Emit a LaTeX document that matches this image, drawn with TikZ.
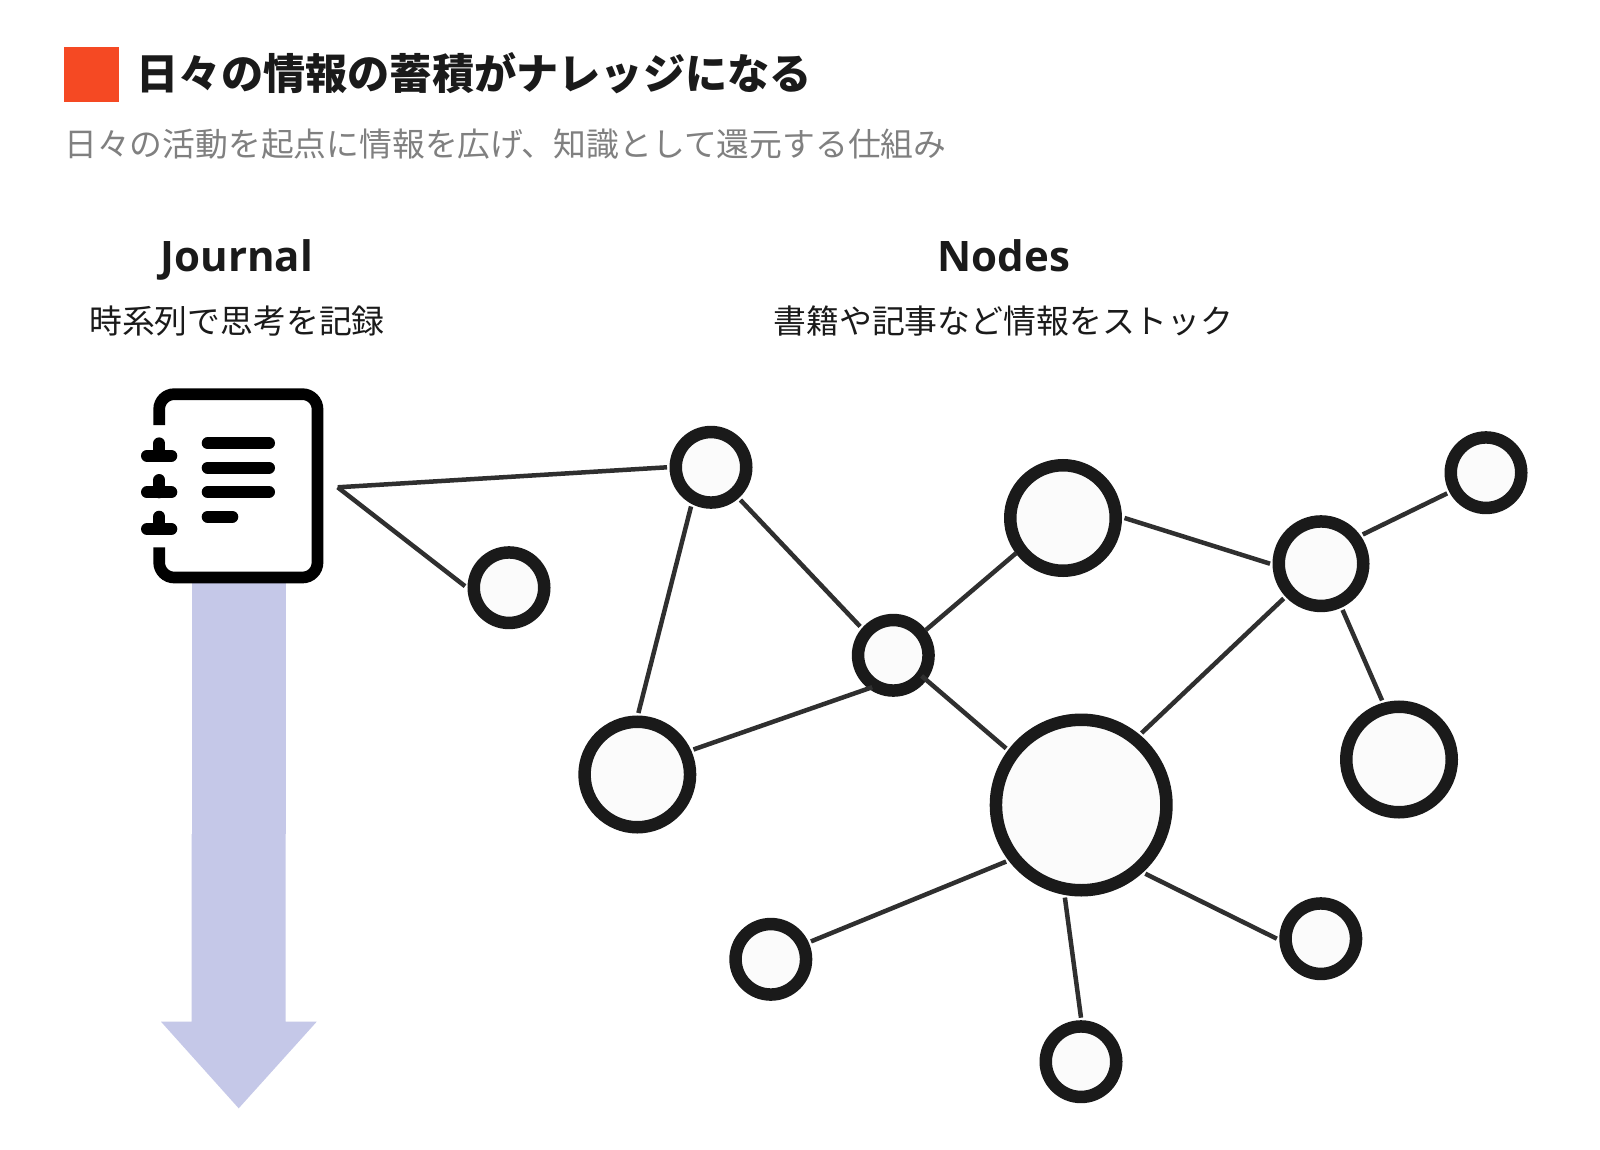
\documentclass[tikz,border=0pt]{standalone}
\usepackage{fontspec}
\newfontfamily\jpfont{Noto Sans CJK JP}
\newfontfamily\latinfont{Open Sans}
\definecolor{inkdark}{HTML}{1A1A1A}
\definecolor{linkgray}{HTML}{2F2F2F}
\definecolor{subgray}{HTML}{808080}
\definecolor{squarered}{HTML}{F54923}
\definecolor{arrowblue}{HTML}{C5C8E8}
\definecolor{nodefill}{HTML}{FBFBFB}
\tikzset{
  x=1pt, y=-1pt,
  graphnode/.style = {draw = inkdark, fill = nodefill, shape = circle, line width = 12.5pt, inner sep = 0pt, outer sep = 8.75pt},
  smallnode/.style = {graphnode, minimum size = 70.5pt},
  hubnode/.style = {graphnode, minimum size = 84.5pt},
  midnode/.style = {graphnode, minimum size = 105.5pt},
  bignode/.style = {graphnode, minimum size = 170.5pt},
  link/.style = {draw = linkgray, line width = 4.5pt},
  iconline/.style = {draw = black, line width = 12pt, line cap = round},
  headtext/.style = {text = inkdark, inner sep = 0pt, font = \latinfont\bfseries\fontsize{42}{50}\selectfont},
  subtext/.style = {text = inkdark, inner sep = 0pt, font = \jpfont\fontsize{32.85}{40}\selectfont}
}
\begin{document}
\begin{tikzpicture}
\useasboundingbox[fill = white] (0,0) rectangle (1600,1150);
\fill[squarered] (63.8,46.7) rectangle (119,101.7);
\node[anchor = base west, text = inkdark, inner sep = 0pt, font = \jpfont\bfseries\fontsize{42.2}{50}\selectfont] (title) at (136.5,90) {日々の情報の蓄積がナレッジになる};
\node[anchor = base west, text = subgray, inner sep = 0pt, font = \jpfont\fontsize{32.8}{40}\selectfont] (subtitle) at (64,157) {日々の活動を起点に情報を広げ、知識として還元する仕組み};
\node[headtext, anchor = base] (journal) at (237,272) {Journal};
\node[headtext, anchor = base] (nodes) at (1004,272) {Nodes};
\node[subtext, anchor = base] (journalsub) at (237,333) {時系列で思考を記録};
\node[subtext, anchor = base] (nodessub) at (1003.5,333) {書籍や記事など情報をストック};
\fill[arrowblue] (191.7,578) rectangle (285.7,834);
\fill[arrowblue] (191.7,834) -- (285.7,834) -- (285.7,1021.7) -- (316.7,1021.7) -- (238.7,1108.3) -- (161,1021.7) -- (191.7,1021.7) -- cycle;
\draw[draw = black, line width = 11.7pt, rounded corners = 15pt] (159.2,425) -- (159.2,394.2) -- (317.5,394.2) -- (317.5,577.5) -- (159.2,577.5) -- (159.2,547.3);
\foreach \ypos in {443.3,467.7,492} {
  \draw[iconline] (207.7,\ypos) -- (269,\ypos);
}
\draw[iconline] (207.7,516.7) -- (232.3,516.7);
\foreach \ypos in {455.7,492.3,529} {
  \draw[iconline] (147,\ypos) -- (171.3,\ypos);
  \draw[iconline] (159.3,\ypos) -- (159.3,\ypos-12.3);
}
\coordinate (jtip) at (337.7,487.3);
\node[smallnode] (n1) at (711,467.3) {};
\node[smallnode] (n2) at (509,587.7) {};
\node[midnode] (n3) at (637.3,774.5) {};
\node[smallnode] (n4) at (893.3,655.3) {};
\node[midnode] (n5) at (1063,518) {};
\node[hubnode] (n6) at (1321,563.7) {};
\node[smallnode] (n7) at (1486,472.7) {};
\node[midnode] (n8) at (1399,759.5) {};
\node[bignode] (n9) at (1081.2,805) {};
\node[smallnode] (n10) at (770.8,959.3) {};
\node[smallnode] (n11) at (1081,1061.7) {};
\node[smallnode] (n12) at (1320.8,938.7) {};
\draw[link] (jtip) -- (n1.180);
\draw[link] (jtip) -- (n2.178);
\draw[link] (n1.243) -- (n3.89);
\draw[link] (n1.312) -- (n4.139);
\draw[link, shorten > = -7pt] (n3.24) -- (n4.231);
\draw[link, shorten < = -3pt, shorten > = -3pt] (n4.38) -- (n5.217);
\draw[link, shorten < = -9pt] (n4.323) -- (n9.143);
\draw[link] (n5.0) -- (n6.180);
\draw[link] (n6.35) -- (n7.208);
\draw[link] (n6.295) -- (n8.106);
\draw[link] (n6.223) -- (n9.50);
\draw[link] (n9.217) -- (n10.24);
\draw[link] (n9.260) -- (n11.90);
\draw[link] (n9.313) -- (n12.180);
\end{tikzpicture}
\end{document}
